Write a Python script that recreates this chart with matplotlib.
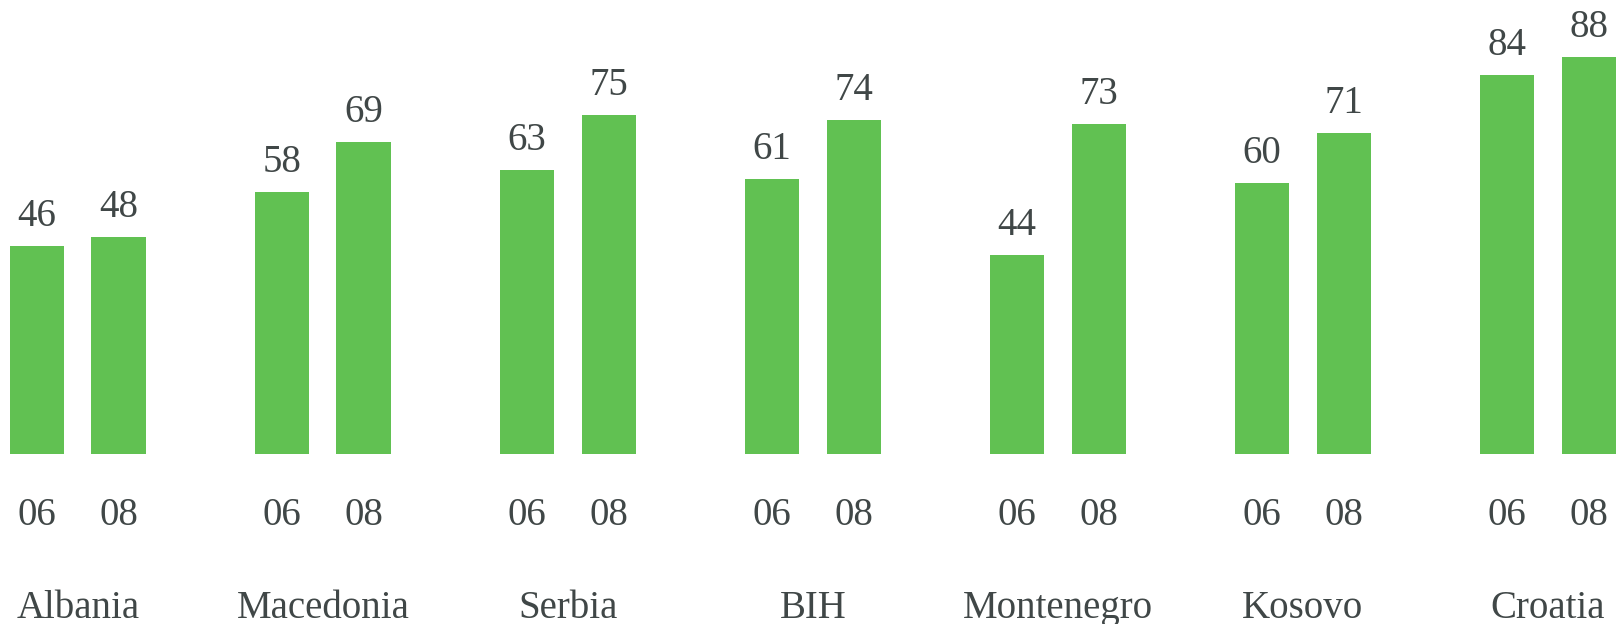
import matplotlib
matplotlib.use("Agg")
import matplotlib.pyplot as plt
import numpy as np

countries = ["Albania", "Macedonia", "Serbia", "BIH", "Montenegro", "Kosovo", "Croatia"]
years = ["06", "08"]
values_06 = [46, 58, 63, 61, 44, 60, 84]
values_08 = [48, 69, 75, 74, 73, 71, 88]

BAR = "#61C152"
TXT = "#404747"
FONT = "Liberation Serif"
FS = 28

fig = plt.figure(figsize=(16.21, 6.24), dpi=100)
ax = fig.add_axes([0, 0, 1, 1])
ax.set_xlim(-0.318, 6.298)
ax.set_ylim(-37.5, 100.5)
ax.axis("off")

x = np.arange(len(countries))
d = 0.1666
w = 0.2224
for off, vals, yr in [(-d, values_06, years[0]), (d, values_08, years[1])]:
    bars = ax.bar(x + off, vals, width=w, color=BAR, edgecolor="none")
    for xi, v in zip(x + off, vals):
        ax.annotate(f"{v}", xy=(xi, v), xytext=(0, 14.4), textcoords="offset points",
                    ha="center", va="baseline", fontsize=FS, color=TXT, family=FONT)
        ax.annotate(yr, xy=(xi, 0), xytext=(0, -50.9), textcoords="offset points",
                    ha="center", va="baseline", fontsize=FS, color=TXT, family=FONT)

for xi, c in zip(x, countries):
    ax.annotate(c, xy=(xi, 0), xytext=(0, -118.0), textcoords="offset points",
                ha="center", va="baseline", fontsize=FS, color=TXT, family=FONT)

fig.savefig("out.png", dpi=100)
